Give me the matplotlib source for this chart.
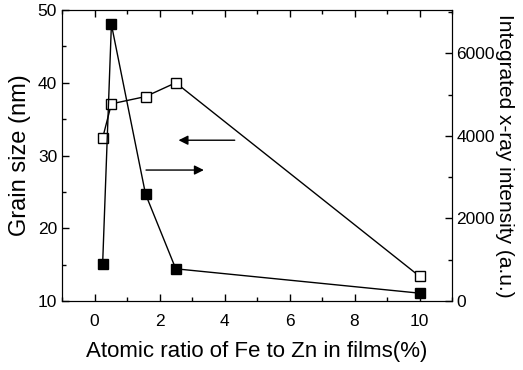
import numpy as np
import matplotlib.pyplot as plt
from matplotlib.ticker import MultipleLocator

plt.rcParams['font.family'] = ['Liberation Sans', 'DejaVu Sans']

# Atomic ratio of Fe to Zn (%)
ratio = [0.25, 0.52, 1.57, 2.5, 10.0]
# Grain size (nm), open squares, left axis
grain_size = [32.4, 37.1, 38.1, 40.0, 13.4]
# Integrated x-ray intensity (a.u.), filled squares, right axis
intensity = [890, 6700, 2590, 780, 190]

fig = plt.figure(figsize=(5.23, 3.70), dpi=100)
ax = fig.add_axes([62 / 523, 1 - 301 / 370, 390 / 523, 291 / 370])
ax2 = ax.twinx()

ax.plot(ratio, grain_size, color='black', lw=1, marker='s', ms=7,
        mfc='white', mec='black', mew=1, zorder=3)
ax2.plot(ratio, intensity, color='black', lw=1, marker='s', ms=6.5,
         mfc='black', mec='black', zorder=3)

ax.set_xlim(-1, 11)
ax.set_ylim(10, 50)
ax2.set_ylim(0, 7050)

ax.xaxis.set_major_locator(MultipleLocator(2))
ax.xaxis.set_minor_locator(MultipleLocator(1))
ax.yaxis.set_major_locator(MultipleLocator(10))
ax.yaxis.set_minor_locator(MultipleLocator(5))
ax2.yaxis.set_major_locator(MultipleLocator(2000))
ax2.yaxis.set_minor_locator(MultipleLocator(1000))

ax.tick_params(which='both', direction='in', top=True, labelsize=12.5, width=1)
ax.tick_params(which='major', length=5)
ax.tick_params(which='minor', length=3)
ax2.tick_params(which='both', direction='in', labelsize=12.5, width=1, pad=3)
ax2.tick_params(which='major', length=5)
ax2.tick_params(which='minor', length=3)
ax.tick_params(axis='x', pad=9)

ax.set_xlabel('Atomic ratio of Fe to Zn in films(%)', fontsize=16, labelpad=9)
ax.set_ylabel('Grain size (nm)', fontsize=17, labelpad=5)
ax2.set_ylabel('Integrated x-ray intensity (a.u.)', fontsize=15,
               rotation=270, labelpad=14)

# arrows pointing to the relevant axis
ax.annotate('', xy=(2.5, 32.1), xytext=(4.4, 32.1),
            arrowprops=dict(arrowstyle='-|>', color='black', lw=1, mutation_scale=14))
ax.annotate('', xy=(3.45, 28.0), xytext=(1.5, 28.0),
            arrowprops=dict(arrowstyle='-|>', color='black', lw=1, mutation_scale=14))

fig.savefig('out.png', dpi=100)
